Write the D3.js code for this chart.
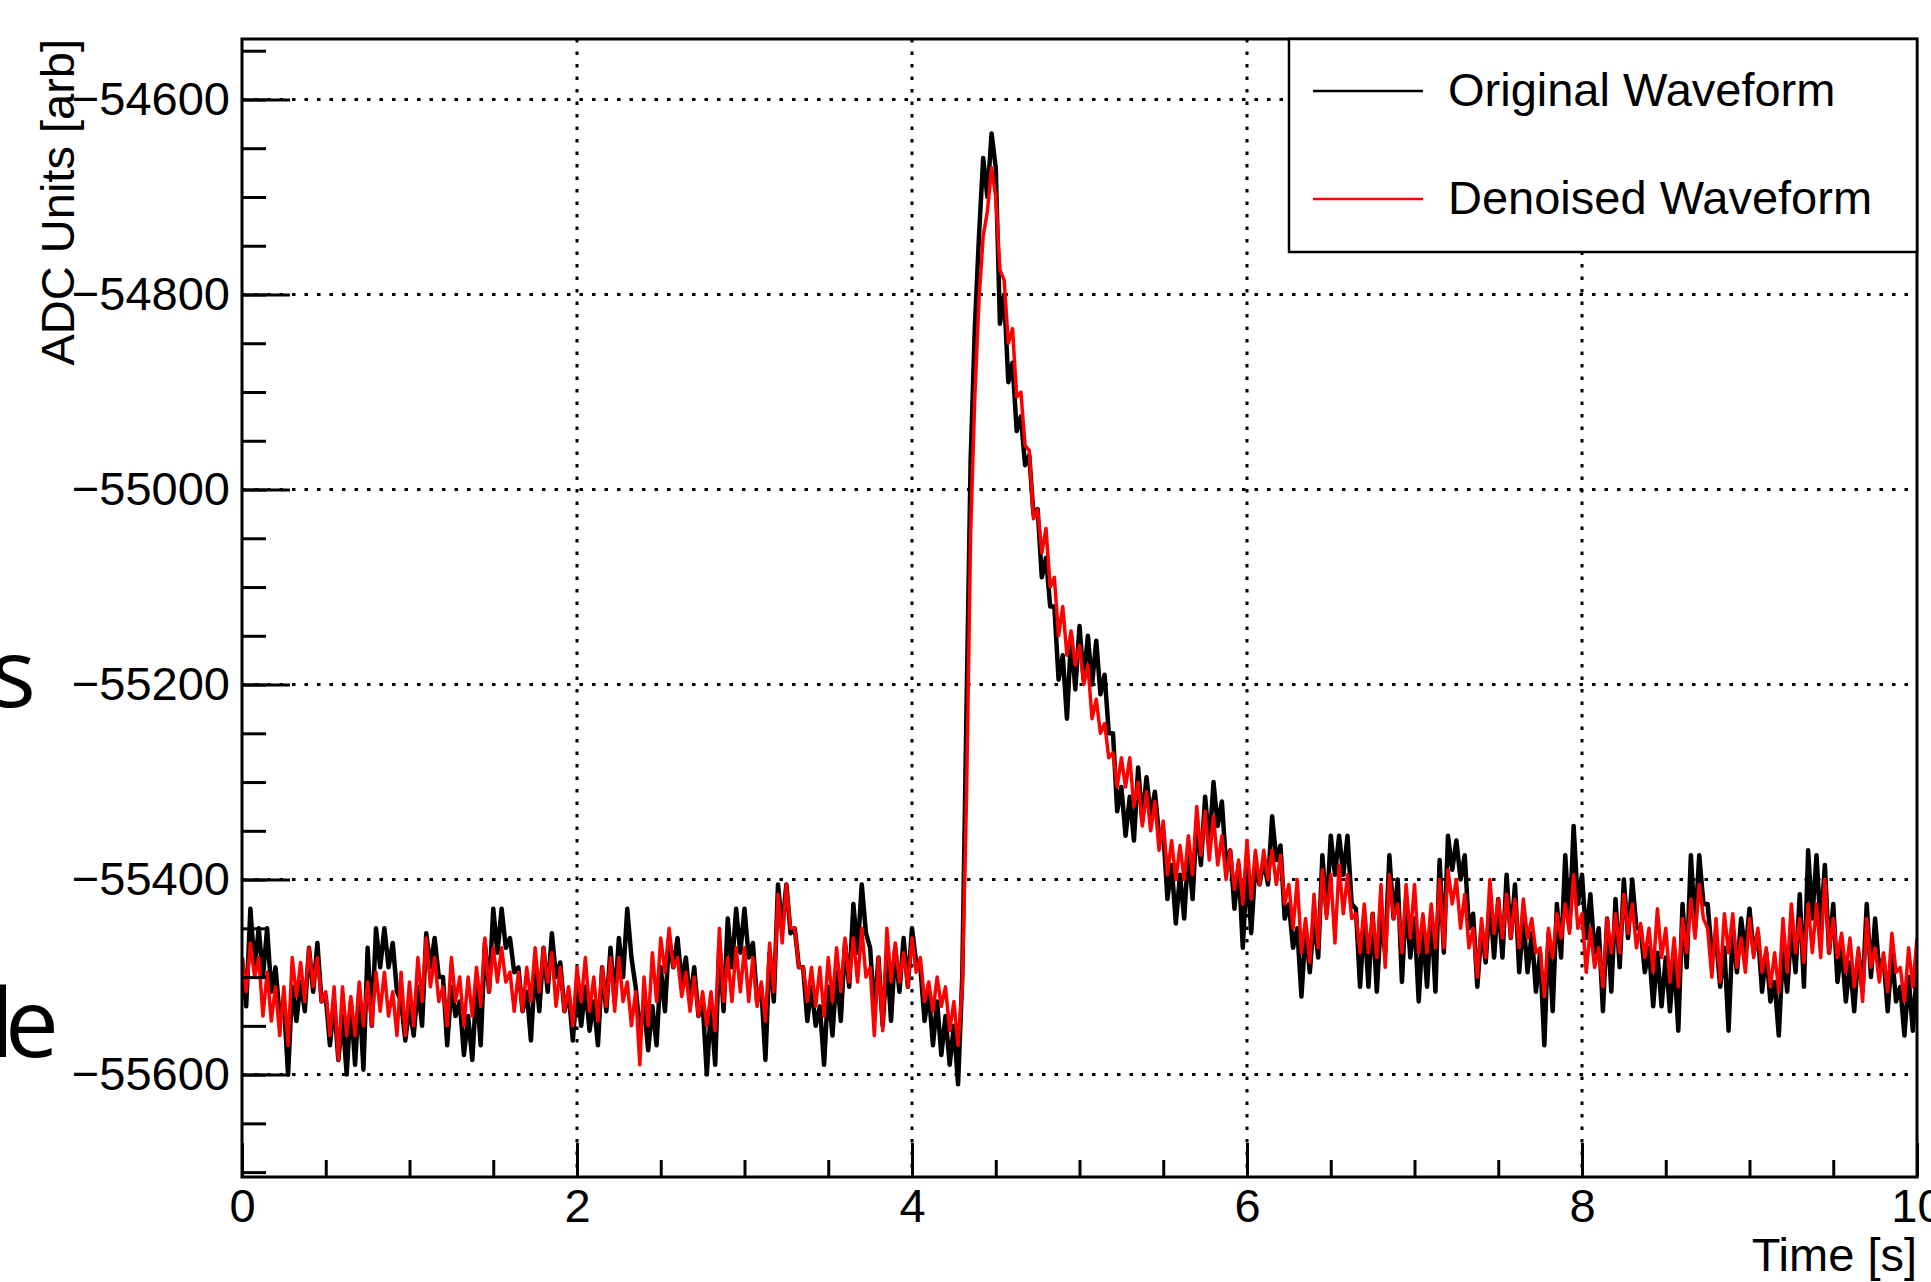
<!DOCTYPE html>
<html>
<head>
<meta charset="utf-8">
<script src="https://cdn.jsdelivr.net/npm/d3@7"></script>
<style>
  body { margin: 0; background: white; }
  svg { display: block; }
</style>
</head>
<body>
<div id="canvas"></div>
<script>
"use strict"

/* Data: samples every 0.025 s */
let sampleStep = 0.025;

let originalWaveform = [
  -55480,-55530,-55430,-55490,-55450,-55500,-55450,-55515,-55490,-55540,-55525,-55600,-55510,-55545,-55505,-55535,-55470,-55515,-55465,-55525,
  -55520,-55570,-55525,-55585,-55540,-55600,-55525,-55590,-55515,-55595,-55470,-55550,-55450,-55490,-55450,-55490,-55465,-55515,-55525,-55565,
  -55530,-55560,-55510,-55550,-55455,-55490,-55460,-55500,-55500,-55570,-55510,-55540,-55525,-55580,-55540,-55585,-55510,-55570,-55465,-55515,
  -55430,-55475,-55430,-55470,-55460,-55495,-55490,-55535,-55515,-55565,-55490,-55535,-55470,-55515,-55455,-55500,-55485,-55535,-55515,-55565,
  -55510,-55550,-55510,-55555,-55525,-55570,-55490,-55535,-55470,-55525,-55460,-55500,-55430,-55480,-55510,-55555,-55530,-55575,-55530,-55570,
  -55490,-55535,-55460,-55490,-55460,-55505,-55480,-55525,-55490,-55540,-55525,-55600,-55530,-55590,-55465,-55535,-55440,-55490,-55430,-55475,
  -55430,-55480,-55465,-55525,-55510,-55585,-55475,-55525,-55405,-55450,-55405,-55455,-55450,-55490,-55490,-55545,-55510,-55550,-55530,-55590,
  -55510,-55560,-55495,-55545,-55465,-55510,-55425,-55475,-55405,-55455,-55470,-55535,-55480,-55550,-55480,-55545,-55470,-55515,-55460,-55510,
  -55450,-55485,-55490,-55545,-55515,-55570,-55525,-55580,-55540,-55590,-55550,-55610,-55500,-55230,-54970,-54835,-54740,-54660,-54700,-54635,
  -54670,-54830,-54800,-54890,-54870,-54940,-54925,-54975,-54965,-55025,-55020,-55090,-55070,-55120,-55120,-55195,-55170,-55235,-55150,-55205,
  -55140,-55195,-55150,-55200,-55155,-55210,-55190,-55250,-55250,-55330,-55305,-55355,-55315,-55360,-55285,-55340,-55295,-55335,-55310,-55355,
  -55350,-55420,-55385,-55445,-55395,-55440,-55370,-55420,-55340,-55385,-55315,-55365,-55300,-55345,-55320,-55385,-55370,-55430,-55385,-55470,
  -55385,-55455,-55385,-55405,-55380,-55405,-55335,-55380,-55365,-55440,-55425,-55470,-55450,-55520,-55450,-55495,-55440,-55480,-55375,-55435,
  -55355,-55395,-55355,-55395,-55355,-55425,-55430,-55510,-55440,-55510,-55435,-55515,-55440,-55475,-55375,-55440,-55400,-55505,-55420,-55480,
  -55440,-55525,-55450,-55510,-55435,-55515,-55380,-55475,-55355,-55390,-55360,-55400,-55375,-55450,-55435,-55510,-55450,-55485,-55420,-55480,
  -55420,-55480,-55395,-55460,-55405,-55495,-55440,-55495,-55455,-55515,-55475,-55570,-55455,-55535,-55425,-55480,-55375,-55450,-55345,-55425,
  -55395,-55460,-55415,-55475,-55450,-55535,-55440,-55515,-55420,-55490,-55400,-55460,-55400,-55450,-55450,-55495,-55470,-55530,-55475,-55530,
  -55480,-55535,-55480,-55555,-55425,-55490,-55375,-55450,-55375,-55425,-55425,-55475,-55460,-55510,-55470,-55555,-55450,-55495,-55440,-55475,
  -55430,-55475,-55455,-55515,-55475,-55525,-55505,-55560,-55470,-55515,-55450,-55495,-55415,-55510,-55370,-55440,-55375,-55450,-55385,-55475,
  -55425,-55505,-55470,-55525,-55485,-55535,-55475,-55515,-55425,-55500,-55440,-55495,-55480,-55535,-55475,-55525,-55510,-55560,-55500,-55555,
  -55490
];

let denoisedWaveform = [
  -55480,-55515,-55465,-55500,-55480,-55540,-55495,-55545,-55510,-55560,-55510,-55570,-55480,-55520,-55485,-55525,-55470,-55510,-55480,-55525,
  -55515,-55560,-55510,-55585,-55510,-55560,-55520,-55560,-55505,-55550,-55505,-55550,-55495,-55535,-55495,-55540,-55515,-55560,-55495,-55560,
  -55505,-55550,-55480,-55525,-55460,-55510,-55480,-55525,-55510,-55550,-55480,-55525,-55500,-55550,-55500,-55540,-55490,-55530,-55460,-55515,
  -55470,-55505,-55470,-55505,-55495,-55535,-55495,-55535,-55490,-55525,-55470,-55515,-55470,-55505,-55475,-55530,-55490,-55535,-55510,-55550,
  -55490,-55525,-55480,-55535,-55500,-55545,-55490,-55530,-55480,-55535,-55480,-55525,-55505,-55550,-55515,-55590,-55500,-55550,-55475,-55525,
  -55460,-55495,-55450,-55490,-55480,-55520,-55495,-55535,-55500,-55540,-55515,-55550,-55515,-55555,-55450,-55525,-55480,-55525,-55470,-55515,
  -55470,-55525,-55480,-55530,-55505,-55545,-55465,-55515,-55415,-55465,-55405,-55450,-55450,-55490,-55490,-55525,-55490,-55530,-55490,-55540,
  -55480,-55525,-55470,-55515,-55460,-55505,-55460,-55505,-55450,-55500,-55490,-55560,-55480,-55555,-55450,-55505,-55465,-55505,-55475,-55510,
  -55460,-55495,-55480,-55525,-55505,-55535,-55500,-55530,-55510,-55555,-55525,-55570,-55510,-55320,-55045,-54905,-54805,-54740,-54715,-54670,
  -54700,-54775,-54785,-54850,-54835,-54905,-54900,-54955,-54960,-55030,-55020,-55065,-55040,-55100,-55090,-55150,-55120,-55170,-55145,-55180,
  -55160,-55200,-55180,-55235,-55215,-55250,-55240,-55275,-55270,-55305,-55275,-55305,-55275,-55325,-55300,-55345,-55310,-55350,-55320,-55370,
  -55340,-55395,-55360,-55400,-55365,-55400,-55355,-55395,-55325,-55375,-55330,-55380,-55335,-55385,-55355,-55400,-55370,-55410,-55380,-55425,
  -55360,-55420,-55370,-55405,-55370,-55400,-55370,-55405,-55375,-55425,-55405,-55450,-55400,-55475,-55440,-55485,-55415,-55470,-55390,-55440,
  -55395,-55465,-55385,-55435,-55395,-55440,-55435,-55475,-55425,-55475,-55435,-55480,-55405,-55490,-55395,-55440,-55425,-55475,-55405,-55460,
  -55405,-55475,-55435,-55475,-55425,-55470,-55400,-55470,-55390,-55425,-55400,-55450,-55415,-55470,-55450,-55500,-55440,-55480,-55400,-55455,
  -55420,-55460,-55415,-55460,-55420,-55470,-55420,-55460,-55440,-55475,-55470,-55520,-55450,-55480,-55435,-55460,-55425,-55455,-55395,-55450,
  -55435,-55495,-55450,-55490,-55470,-55510,-55440,-55475,-55435,-55475,-55415,-55455,-55425,-55470,-55445,-55480,-55450,-55495,-55430,-55480,
  -55450,-55505,-55460,-55510,-55440,-55475,-55420,-55460,-55405,-55440,-55450,-55500,-55440,-55505,-55435,-55475,-55435,-55490,-55460,-55495,
  -55440,-55480,-55450,-55495,-55470,-55510,-55475,-55515,-55440,-55495,-55425,-55475,-55440,-55485,-55425,-55475,-55425,-55480,-55400,-55475,
  -55440,-55480,-55455,-55495,-55460,-55510,-55470,-55525,-55440,-55490,-55470,-55505,-55475,-55515,-55455,-55495,-55490,-55525,-55470,-55510,
  -55460
];

let seriesNames = ["Original Waveform", "Denoised Waveform"];
let seriesColors = ["black", "#ff0000"];
let seriesWidths = [4.5, 3.5];

let xTicks = [0, 2, 4, 6, 8, 10];
let yTicks = [-55600, -55400, -55200, -55000, -54800, -54600];

/* Drawing configuration */
let svgWidth = 1931;
let svgHeight = 1282;
let frame = {left: 242, right: 1917, top: 39, bottom: 1177};
let fontFamily = "'Liberation Sans', Arial, Helvetica, sans-serif";
let fontSize = 47;

let svg = d3.select("#canvas")
    .append("svg")
    .attr("width", svgWidth)
    .attr("height", svgHeight);

svg.append("rect")
    .attr("width", svgWidth)
    .attr("height", svgHeight)
    .attr("fill", "white");

/* Scales */
let xScale = d3.scaleLinear()
    .domain([0, 10])
    .range([frame.left, frame.right]);

let yScale = d3.scaleLinear()
    .domain([-55705, -54538])
    .range([frame.bottom, frame.top]);

/* Leftover big text from the neighbouring pad, cut by the edge */
svg.append("text")
    .attr("x", 36)
    .attr("y", 707)
    .attr("text-anchor", "end")
    .style("font-family", "'Open Sans', 'Noto Sans', sans-serif")
    .style("font-size", "96px")
    .text("s");

svg.append("text")
    .attr("x", "-10 5")
    .attr("y", 1057)
    .style("font-family", "'Open Sans', 'Noto Sans', sans-serif")
    .style("font-size", "96px")
    .text("le");

/* Grid (dotted) */
let grid = svg.append("g")
    .attr("stroke", "black")
    .attr("stroke-width", 3)
    .attr("stroke-dasharray", "3.5 9");

grid.selectAll(".gx")
    .data(xTicks.filter(d => d > 0 && d < 10))
    .join("line")
    .attr("x1", d => xScale(d))
    .attr("x2", d => xScale(d))
    .attr("y1", frame.top)
    .attr("y2", frame.bottom);

grid.selectAll(".gy")
    .data(yTicks)
    .join("line")
    .attr("x1", frame.left)
    .attr("x2", frame.right)
    .attr("y1", d => yScale(d))
    .attr("y2", d => yScale(d));

/* Waveforms */
svg.append("clipPath")
    .attr("id", "frameClip")
    .append("rect")
    .attr("x", frame.left)
    .attr("y", frame.top)
    .attr("width", frame.right - frame.left)
    .attr("height", frame.bottom - frame.top);

let line = d3.line()
    .x((d, i) => xScale(i * sampleStep))
    .y(d => yScale(d));

[originalWaveform, denoisedWaveform].forEach(function (values, i) {
    svg.append("path")
        .datum(values)
        .attr("clip-path", "url(#frameClip)")
        .attr("fill", "none")
        .attr("stroke", seriesColors[i])
        .attr("stroke-width", seriesWidths[i])
        .attr("stroke-linejoin", "round")
        .attr("d", line);
});

/* Axes: ticks inside the frame, ROOT style */
let yMinor = d3.range(-55700, -54549, 50);
let xMinor = d3.range(0, 10.01, 0.5);

let yMinorAxis = svg.append("g")
    .attr("transform", "translate(" + frame.left + ",0)")
    .call(d3.axisLeft(yScale).tickValues(yMinor).tickSize(-24).tickFormat(""));

let yAxis = svg.append("g")
    .attr("transform", "translate(" + frame.left + ",0)")
    .call(d3.axisLeft(yScale).tickValues(yTicks).tickSize(-48).tickPadding(12)
        .tickFormat(d3.format("d")));

let xMinorAxis = svg.append("g")
    .attr("transform", "translate(0," + frame.bottom + ")")
    .call(d3.axisBottom(xScale).tickValues(xMinor).tickSize(-17).tickFormat(""));

let xAxis = svg.append("g")
    .attr("transform", "translate(0," + frame.bottom + ")")
    .call(d3.axisBottom(xScale).tickValues(xTicks).tickSize(-34).tickPadding(12)
        .tickFormat(d3.format("d")));

[yMinorAxis, yAxis, xMinorAxis, xAxis].forEach(function (g) {
    g.select(".domain").remove();
    g.selectAll(".tick line")
        .attr("stroke", "black")
        .attr("stroke-width", 3);
    g.selectAll("text")
        .style("font-family", fontFamily)
        .style("font-size", fontSize + "px")
        .attr("fill", "black");
});

/* Frame */
svg.append("rect")
    .attr("x", frame.left)
    .attr("y", frame.top)
    .attr("width", frame.right - frame.left)
    .attr("height", frame.bottom - frame.top)
    .attr("fill", "none")
    .attr("stroke", "black")
    .attr("stroke-width", 3);

/* Axis titles */
svg.append("text")
    .attr("x", frame.right)
    .attr("y", 1271)
    .attr("text-anchor", "end")
    .style("font-family", fontFamily)
    .style("font-size", fontSize + "px")
    .text("Time [s]");

svg.append("text")
    .attr("transform", "translate(74," + frame.top + ") rotate(-90)")
    .attr("text-anchor", "end")
    .style("font-family", fontFamily)
    .style("font-size", fontSize + "px")
    .text("ADC Units [arb]");

/* Legend */
let legend = svg.append("g");

legend.append("rect")
    .attr("x", 1289)
    .attr("y", frame.top)
    .attr("width", frame.right - 1289)
    .attr("height", 213)
    .attr("fill", "white")
    .attr("stroke", "black")
    .attr("stroke-width", 2.5);

seriesNames.forEach(function (name, i) {
    let rowY = 91 + i * 108;
    legend.append("line")
        .attr("x1", 1313)
        .attr("x2", 1423)
        .attr("y1", rowY)
        .attr("y2", rowY)
        .attr("stroke", seriesColors[i])
        .attr("stroke-width", 2.6);

    legend.append("text")
        .attr("x", 1448)
        .attr("y", rowY + 15)
        .style("font-family", fontFamily)
        .style("font-size", fontSize + "px")
        .text(name);
});
</script>
</body>
</html>
